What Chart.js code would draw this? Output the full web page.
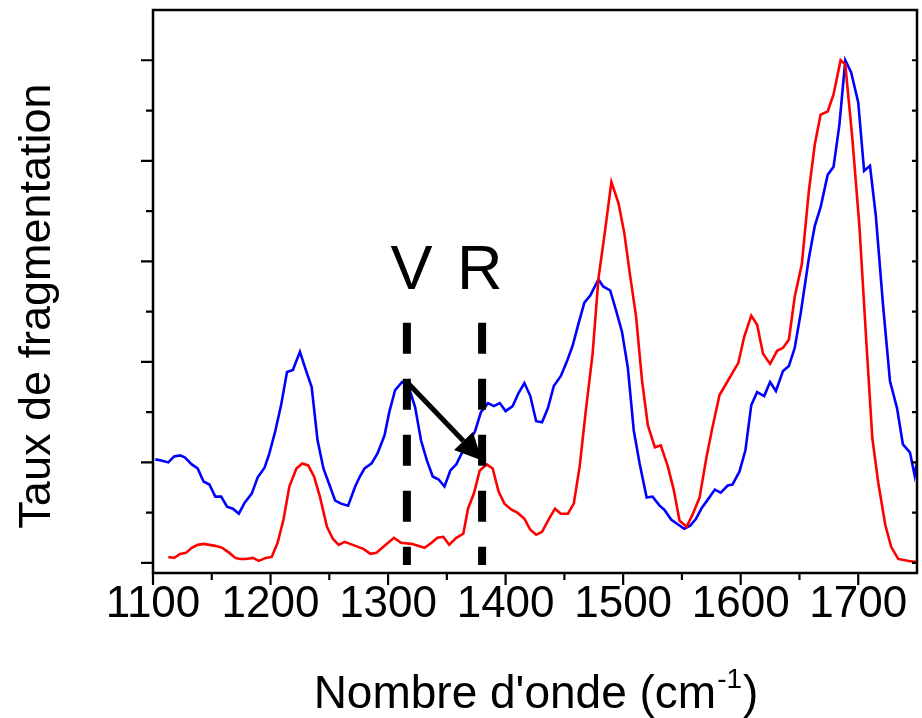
<!DOCTYPE html>
<html lang="fr">
<head>
<meta charset="UTF-8">
<title>Taux de fragmentation</title>
<script src="https://cdn.jsdelivr.net/npm/chart.js"></script>
<style>
  html, body { margin: 0; padding: 0; background: #fff; }
  #wrap { width: 922px; height: 718px; }
</style>
</head>
<body>
<div id="wrap"><canvas id="chart" width="922" height="718"></canvas></div>
<script>
// wavenumbers (cm-1) and fragmentation rate (arbitrary units, 1 = one major tick)
const blueX = [1102,1107,1113,1118,1123,1127,1133,1138,1143,1148,
  1153,1158,1163,1168,1173,1178,1184,1189,1195,1199,
  1204,1209,1214,1219,1225,1230,1235,1240,1245,1250,
  1255,1260,1266,1272,1276,1280,1286,1291,1297,1301,
  1306,1312,1317,1323,1328,1333,1338,1343,1348,1353,
  1358,1363,1369,1374,1379,1385,1390,1395,1400,1406,
  1411,1416,1421,1426,1431,1436,1441,1447,1452,1457,
  1462,1467,1472,1479,1483,1489,1494,1499,1504,1509,
  1514,1520,1525,1531,1535,1541,1547,1552,1557,1562,
  1567,1572,1578,1583,1589,1593,1599,1604,1609,1614,
  1620,1625,1630,1636,1641,1646,1651,1658,1663,1668,
  1674,1679,1684,1689,1694,1700,1705,1710,1715,1721,
  1727,1733,1738,1744,1748,1750];
const blueY = [1.03,1.02,1.00,1.06,1.07,1.05,0.98,0.94,0.81,0.78,
  0.66,0.66,0.56,0.54,0.49,0.60,0.69,0.85,0.95,1.09,
  1.31,1.57,1.90,1.92,2.10,1.92,1.75,1.22,0.94,0.78,
  0.62,0.59,0.57,0.76,0.86,0.94,0.99,1.09,1.27,1.50,
  1.72,1.80,1.77,1.55,1.22,1.02,0.86,0.83,0.76,0.92,
  0.98,1.10,1.20,1.31,1.50,1.59,1.56,1.59,1.51,1.56,
  1.69,1.79,1.66,1.41,1.40,1.54,1.76,1.86,2.00,2.16,
  2.38,2.59,2.66,2.82,2.75,2.71,2.51,2.30,1.94,1.32,
  0.99,0.65,0.66,0.57,0.53,0.43,0.38,0.34,0.37,0.44,
  0.55,0.63,0.73,0.70,0.77,0.78,0.91,1.12,1.57,1.70,
  1.66,1.80,1.71,1.91,1.96,2.14,2.48,3.03,3.35,3.54,
  3.86,3.94,4.36,5.00,4.88,4.58,3.90,3.95,3.45,2.58,
  1.81,1.54,1.18,1.10,0.87,1.00];

const redX = [1113,1118,1123,1128,1133,1138,1143,1148,1153,1159,
  1165,1170,1174,1179,1185,1190,1196,1201,1206,1211,
  1216,1222,1227,1232,1237,1242,1248,1253,1258,1263,
  1270,1279,1285,1290,1296,1305,1311,1320,1331,1337,
  1342,1347,1352,1358,1364,1368,1373,1378,1384,1389,
  1394,1399,1405,1410,1416,1421,1426,1431,1437,1442,
  1447,1453,1458,1463,1468,1474,1479,1485,1490,1496,
  1501,1506,1511,1516,1521,1527,1532,1538,1543,1548,
  1554,1559,1565,1571,1576,1582,1587,1593,1598,1603,
  1609,1614,1619,1625,1631,1636,1641,1646,1652,1658,
  1663,1668,1674,1679,1685,1689,1695,1701,1707,1712,
  1717,1723,1728,1734,1743,1750];
const redY = [0.06,0.05,0.09,0.10,0.15,0.18,0.19,0.18,0.17,0.15,
  0.10,0.05,0.04,0.04,0.05,0.02,0.05,0.06,0.20,0.43,
  0.76,0.94,0.99,0.97,0.86,0.66,0.36,0.24,0.18,0.21,
  0.18,0.14,0.09,0.10,0.16,0.25,0.20,0.19,0.15,0.20,
  0.25,0.26,0.18,0.25,0.29,0.54,0.69,0.92,0.98,0.94,
  0.71,0.59,0.53,0.50,0.44,0.33,0.28,0.31,0.44,0.54,
  0.49,0.49,0.59,0.96,1.49,2.08,2.83,3.34,3.79,3.58,
  3.28,2.85,2.45,1.82,1.37,1.15,1.17,0.96,0.73,0.42,
  0.36,0.48,0.65,1.06,1.35,1.67,1.77,1.89,1.99,2.25,
  2.46,2.37,2.08,1.98,2.11,2.14,2.22,2.65,2.97,3.70,
  4.16,4.46,4.49,4.66,5.00,4.96,4.22,3.35,2.18,1.24,
  0.80,0.38,0.16,0.04,0.02,0.01];

const xTicks = [1100, 1200, 1300, 1400, 1500, 1600, 1700];
const xMinor = [1150, 1250, 1350, 1450, 1550, 1650];
const yMajor = [0, 1, 2, 3, 4, 5];
const yMinor = [0.5, 1.5, 2.5, 3.5, 4.5];

// V / R markers and the arrow between them
const markers = [{ x: 1316, label: 'V', labelX: 1320 }, { x: 1380, label: 'R', labelX: 1378 }];
const markerTop = 2.39, markerBottom = -0.02, labelY = 2.72;
const arrowFrom = { x: 1316, y: 1.80 };
const arrowTo = { x: 1380, y: 1.02 };

const FONT = '"Liberation Sans", Arial, sans-serif';

const decor = {
  id: 'decor',
  afterDatasetsDraw(chart) {
    const { ctx, scales: { x, y } } = chart;
    ctx.save();
    ctx.strokeStyle = '#000';
    ctx.fillStyle = '#000';

    // dashed vertical lines
    ctx.lineWidth = 8;
    ctx.setLineDash([31, 25]);
    markers.forEach(m => {
      const px = x.getPixelForValue(m.x);
      ctx.beginPath();
      ctx.moveTo(px, y.getPixelForValue(markerTop));
      ctx.lineTo(px, y.getPixelForValue(markerBottom));
      ctx.stroke();
    });
    ctx.setLineDash([]);

    // arrow
    const x0 = x.getPixelForValue(arrowFrom.x), y0 = y.getPixelForValue(arrowFrom.y);
    const x1 = x.getPixelForValue(arrowTo.x), y1 = y.getPixelForValue(arrowTo.y);
    const ang = Math.atan2(y1 - y0, x1 - x0);
    const headLen = 27, headHalf = 13;
    const bx = x1 - headLen * Math.cos(ang), by = y1 - headLen * Math.sin(ang);
    ctx.lineWidth = 5;
    ctx.beginPath();
    ctx.moveTo(x0, y0);
    ctx.lineTo(bx, by);
    ctx.stroke();
    ctx.beginPath();
    ctx.moveTo(x1, y1);
    ctx.lineTo(bx + headHalf * Math.sin(ang), by - headHalf * Math.cos(ang));
    ctx.lineTo(bx - headHalf * Math.sin(ang), by + headHalf * Math.cos(ang));
    ctx.closePath();
    ctx.fill();

    // V / R letters
    ctx.font = '63px ' + FONT;
    ctx.textAlign = 'center';
    ctx.textBaseline = 'alphabetic';
    markers.forEach(m => ctx.fillText(m.label, x.getPixelForValue(m.labelX), y.getPixelForValue(labelY)));
    ctx.restore();
  },
  afterDraw(chart) {
    const { ctx, chartArea: a, scales: { x, y } } = chart;
    ctx.save();
    ctx.strokeStyle = '#000';
    ctx.fillStyle = '#000';
    ctx.lineWidth = 2.5;
    ctx.strokeRect(a.left, a.top, a.right - a.left, a.bottom - a.top);

    ctx.lineWidth = 2.2;
    ctx.beginPath();
    yMajor.forEach(v => {
      const py = y.getPixelForValue(v);
      ctx.moveTo(a.left, py); ctx.lineTo(a.left - 12, py);
      ctx.moveTo(a.right, py); ctx.lineTo(a.right - 5, py);
    });
    yMinor.forEach(v => {
      const py = y.getPixelForValue(v);
      ctx.moveTo(a.left, py); ctx.lineTo(a.left - 7, py);
      ctx.moveTo(a.right, py); ctx.lineTo(a.right - 5, py);
    });
    xTicks.forEach(v => {
      const px = x.getPixelForValue(v);
      ctx.moveTo(px, a.bottom); ctx.lineTo(px, a.bottom + 12);
    });
    xMinor.forEach(v => {
      const px = x.getPixelForValue(v);
      ctx.moveTo(px, a.bottom); ctx.lineTo(px, a.bottom + 7);
    });
    ctx.stroke();

    // y title
    ctx.save();
    ctx.translate(38, 306);
    ctx.rotate(-Math.PI / 2);
    ctx.font = '45px ' + FONT;
    ctx.textAlign = 'center';
    ctx.textBaseline = 'middle';
    ctx.fillText('Taux de fragmentation', 0, 0);
    ctx.restore();

    // x title with superscript
    const main = "Nombre d'onde (cm", sup = '-1', close = ')';
    ctx.textAlign = 'left';
    ctx.textBaseline = 'alphabetic';
    ctx.font = '46px ' + FONT;
    const w1 = ctx.measureText(main).width, w3 = ctx.measureText(close).width;
    ctx.font = '28px ' + FONT;
    const w2 = ctx.measureText(sup).width;
    let sx = 535 - (w1 + w2 + w3) / 2;
    const base = 708;
    ctx.font = '46px ' + FONT;
    ctx.fillText(main, sx, base);
    ctx.font = '28px ' + FONT;
    ctx.fillText(sup, sx + w1 + 1, base - 20);
    ctx.font = '46px ' + FONT;
    ctx.fillText(close, sx + w1 + w2 + 2, base);
    ctx.restore();
  }
};

new Chart(document.getElementById('chart'), {
  type: 'line',
  data: {
    datasets: [
      {
        label: 'R',
        data: redX.map((v, i) => ({ x: v, y: redY[i] })),
        borderColor: '#ff0000',
        borderWidth: 2.6,
        pointRadius: 0,
        tension: 0
      },
      {
        label: 'V',
        data: blueX.map((v, i) => ({ x: v, y: blueY[i] })),
        borderColor: '#0000ff',
        borderWidth: 2.6,
        pointRadius: 0,
        tension: 0
      }
    ]
  },
  options: {
    responsive: false,
    animation: false,
    devicePixelRatio: 1,
    layout: { padding: { top: 10, right: 5, left: 0, bottom: 0 } },
    plugins: { legend: { display: false }, tooltip: { enabled: false } },
    scales: {
      x: {
        type: 'linear',
        min: 1100,
        max: 1750,
        afterBuildTicks: s => { s.ticks = xTicks.map(v => ({ value: v })); },
        afterFit: s => { s.height = 145; },
        grid: { display: false, drawTicks: false },
        border: { display: false },
        ticks: {
          color: '#000',
          font: { size: 44, family: FONT },
          padding: 5,
          maxRotation: 0,
          autoSkip: false,
          callback: v => String(v)
        }
      },
      y: {
        min: -0.1,
        max: 5.5,
        afterFit: s => { s.width = 153; },
        grid: { display: false, drawTicks: false },
        border: { display: false },
        ticks: { display: false }
      }
    }
  },
  plugins: [decor]
});
</script>
</body>
</html>
